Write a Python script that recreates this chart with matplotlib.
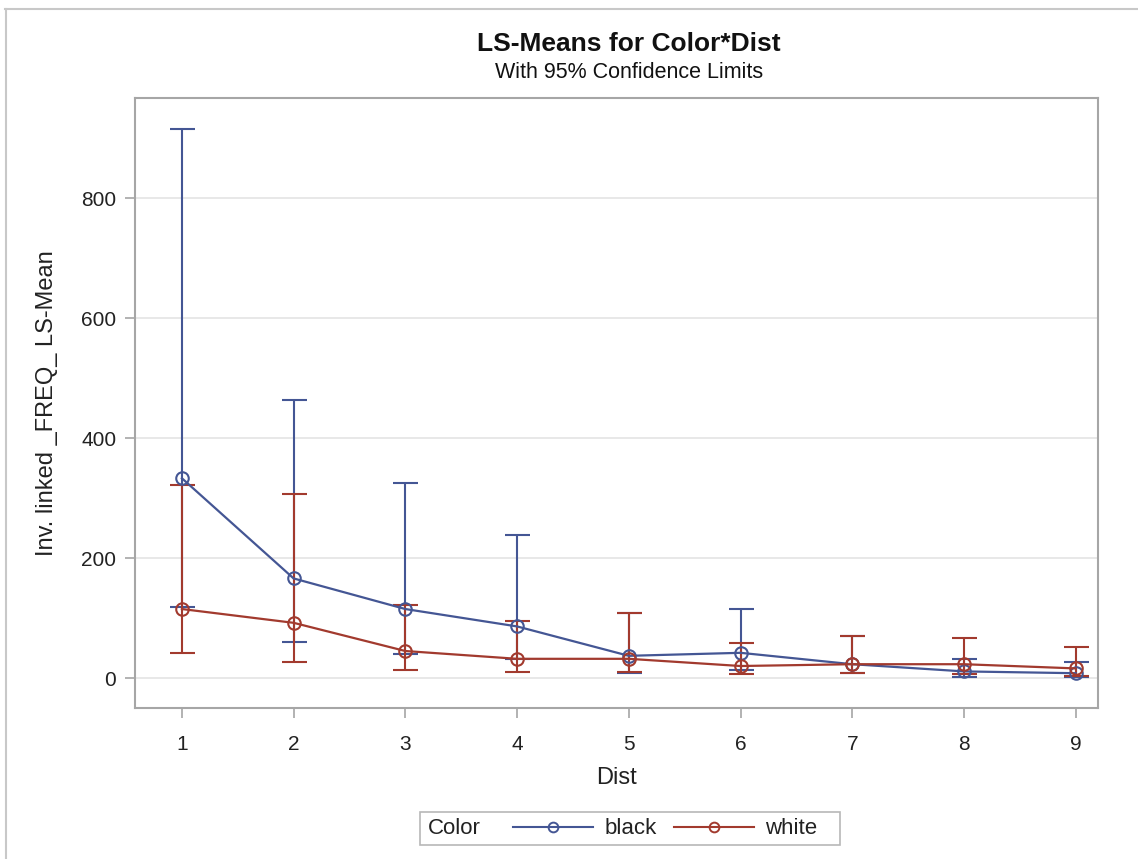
import matplotlib
matplotlib.use("Agg")
import matplotlib.pyplot as plt
from matplotlib.lines import Line2D
from matplotlib.patches import Rectangle

plt.rcParams['font.family'] = ['Liberation Sans', 'DejaVu Sans']

dist = [1, 2, 3, 4, 5, 6, 7, 8, 9]
black_mean = [333, 166, 115, 86, 37, 42, 23, 11, 8]
black_lower = [119, 60, 40, 32, 9, 14, 9, 2, 1]
black_upper = [915, 464, 325, 238, 108, 115, 70, 32, 26]
white_mean = [115, 92, 45, 32, 32, 20, 23, 23, 16]
white_lower = [42, 27, 14, 10, 10, 6, 9, 7, 4]
white_upper = [322, 307, 122, 95, 109, 59, 70, 67, 52]
yticks = [0, 200, 400, 600, 800]

BLUE = '#445694'
RED = '#A23A2E'
W, H = 1138, 859

fig = plt.figure(figsize=(W/100, H/100), dpi=100)
ax = fig.add_axes([135/W, 1-708/H, (1098-135)/W, (708-98)/H])

for mean, lo, hi, col in [(black_mean, black_lower, black_upper, BLUE),
                          (white_mean, white_lower, white_upper, RED)]:
    yerr = [[m - l for m, l in zip(mean, lo)], [h - m for m, h in zip(mean, hi)]]
    ax.errorbar(dist, mean, yerr=yerr, fmt='none', ecolor=col, elinewidth=1.5,
                capsize=9, capthick=1.5, zorder=3)
for mean, col in [(black_mean, BLUE), (white_mean, RED)]:
    ax.plot(dist, mean, color=col, lw=1.6, marker='o', ms=9, mfc='none',
            mec=col, mew=1.5, zorder=4)

ax.set_xlim(0.58, 9.2)
ax.set_ylim(-50, 967)
ax.set_xticks(dist)
ax.set_yticks(yticks)
ax.grid(axis='y', color='#e4e4e4', lw=1.2)
ax.set_axisbelow(True)
for s in ax.spines.values():
    s.set_color('#a6a6a6')
    s.set_linewidth(1.5)
ax.tick_params(colors='#a6a6a6', labelcolor='#222222', labelsize=15, length=7.5, width=1.2)
ax.tick_params(axis='x', pad=12)
ax.tick_params(axis='y', pad=6)
ax.set_xlabel('Dist', fontsize=17, color='#222222', labelpad=9)
ax.set_ylabel('Inv. linked _FREQ_ LS-Mean', fontsize=17, color='#222222', labelpad=17)

fig.text(629/W, 1-44/H, 'LS-Means for Color*Dist', ha='center', va='center',
         fontsize=19, fontweight='bold', color='#111111')
fig.text(629/W, 1-73/H, 'With 95% Confidence Limits', ha='center', va='center',
         fontsize=15.5, color='#111111')

# legend box with "Color" label
fig.add_artist(Rectangle((420/W, 1-845/H), 420/W, 33/H, transform=fig.transFigure,
                         fill=False, ec='#b8b8b8', lw=1.2))
fig.text(428/W, 1-829/H, 'Color', ha='left', va='center', fontsize=16, color='#222222')
handles = [Line2D([], [], color=BLUE, lw=1.5, marker='o', ms=7, mfc='none', mew=1.4),
           Line2D([], [], color=RED, lw=1.5, marker='o', ms=7, mfc='none', mew=1.4)]
leg = fig.legend(handles, ['black', 'white'], loc='center left',
                 bbox_to_anchor=(513/W, 1-829/H), ncol=2, frameon=False,
                 fontsize=16, handlelength=3.6, columnspacing=0.8, handletextpad=0.5,
                 borderpad=0, borderaxespad=0)
for t in leg.get_texts():
    t.set_color('#222222')

# outer border (top and left)
fig.add_artist(Line2D([5/W, 1.0], [1-9/H, 1-9/H], color='#c8c8c8', lw=1.5))
fig.add_artist(Line2D([6/W, 6/W], [0, 1-9/H], color='#c8c8c8', lw=1.5))

fig.savefig('out.png', dpi=100)
